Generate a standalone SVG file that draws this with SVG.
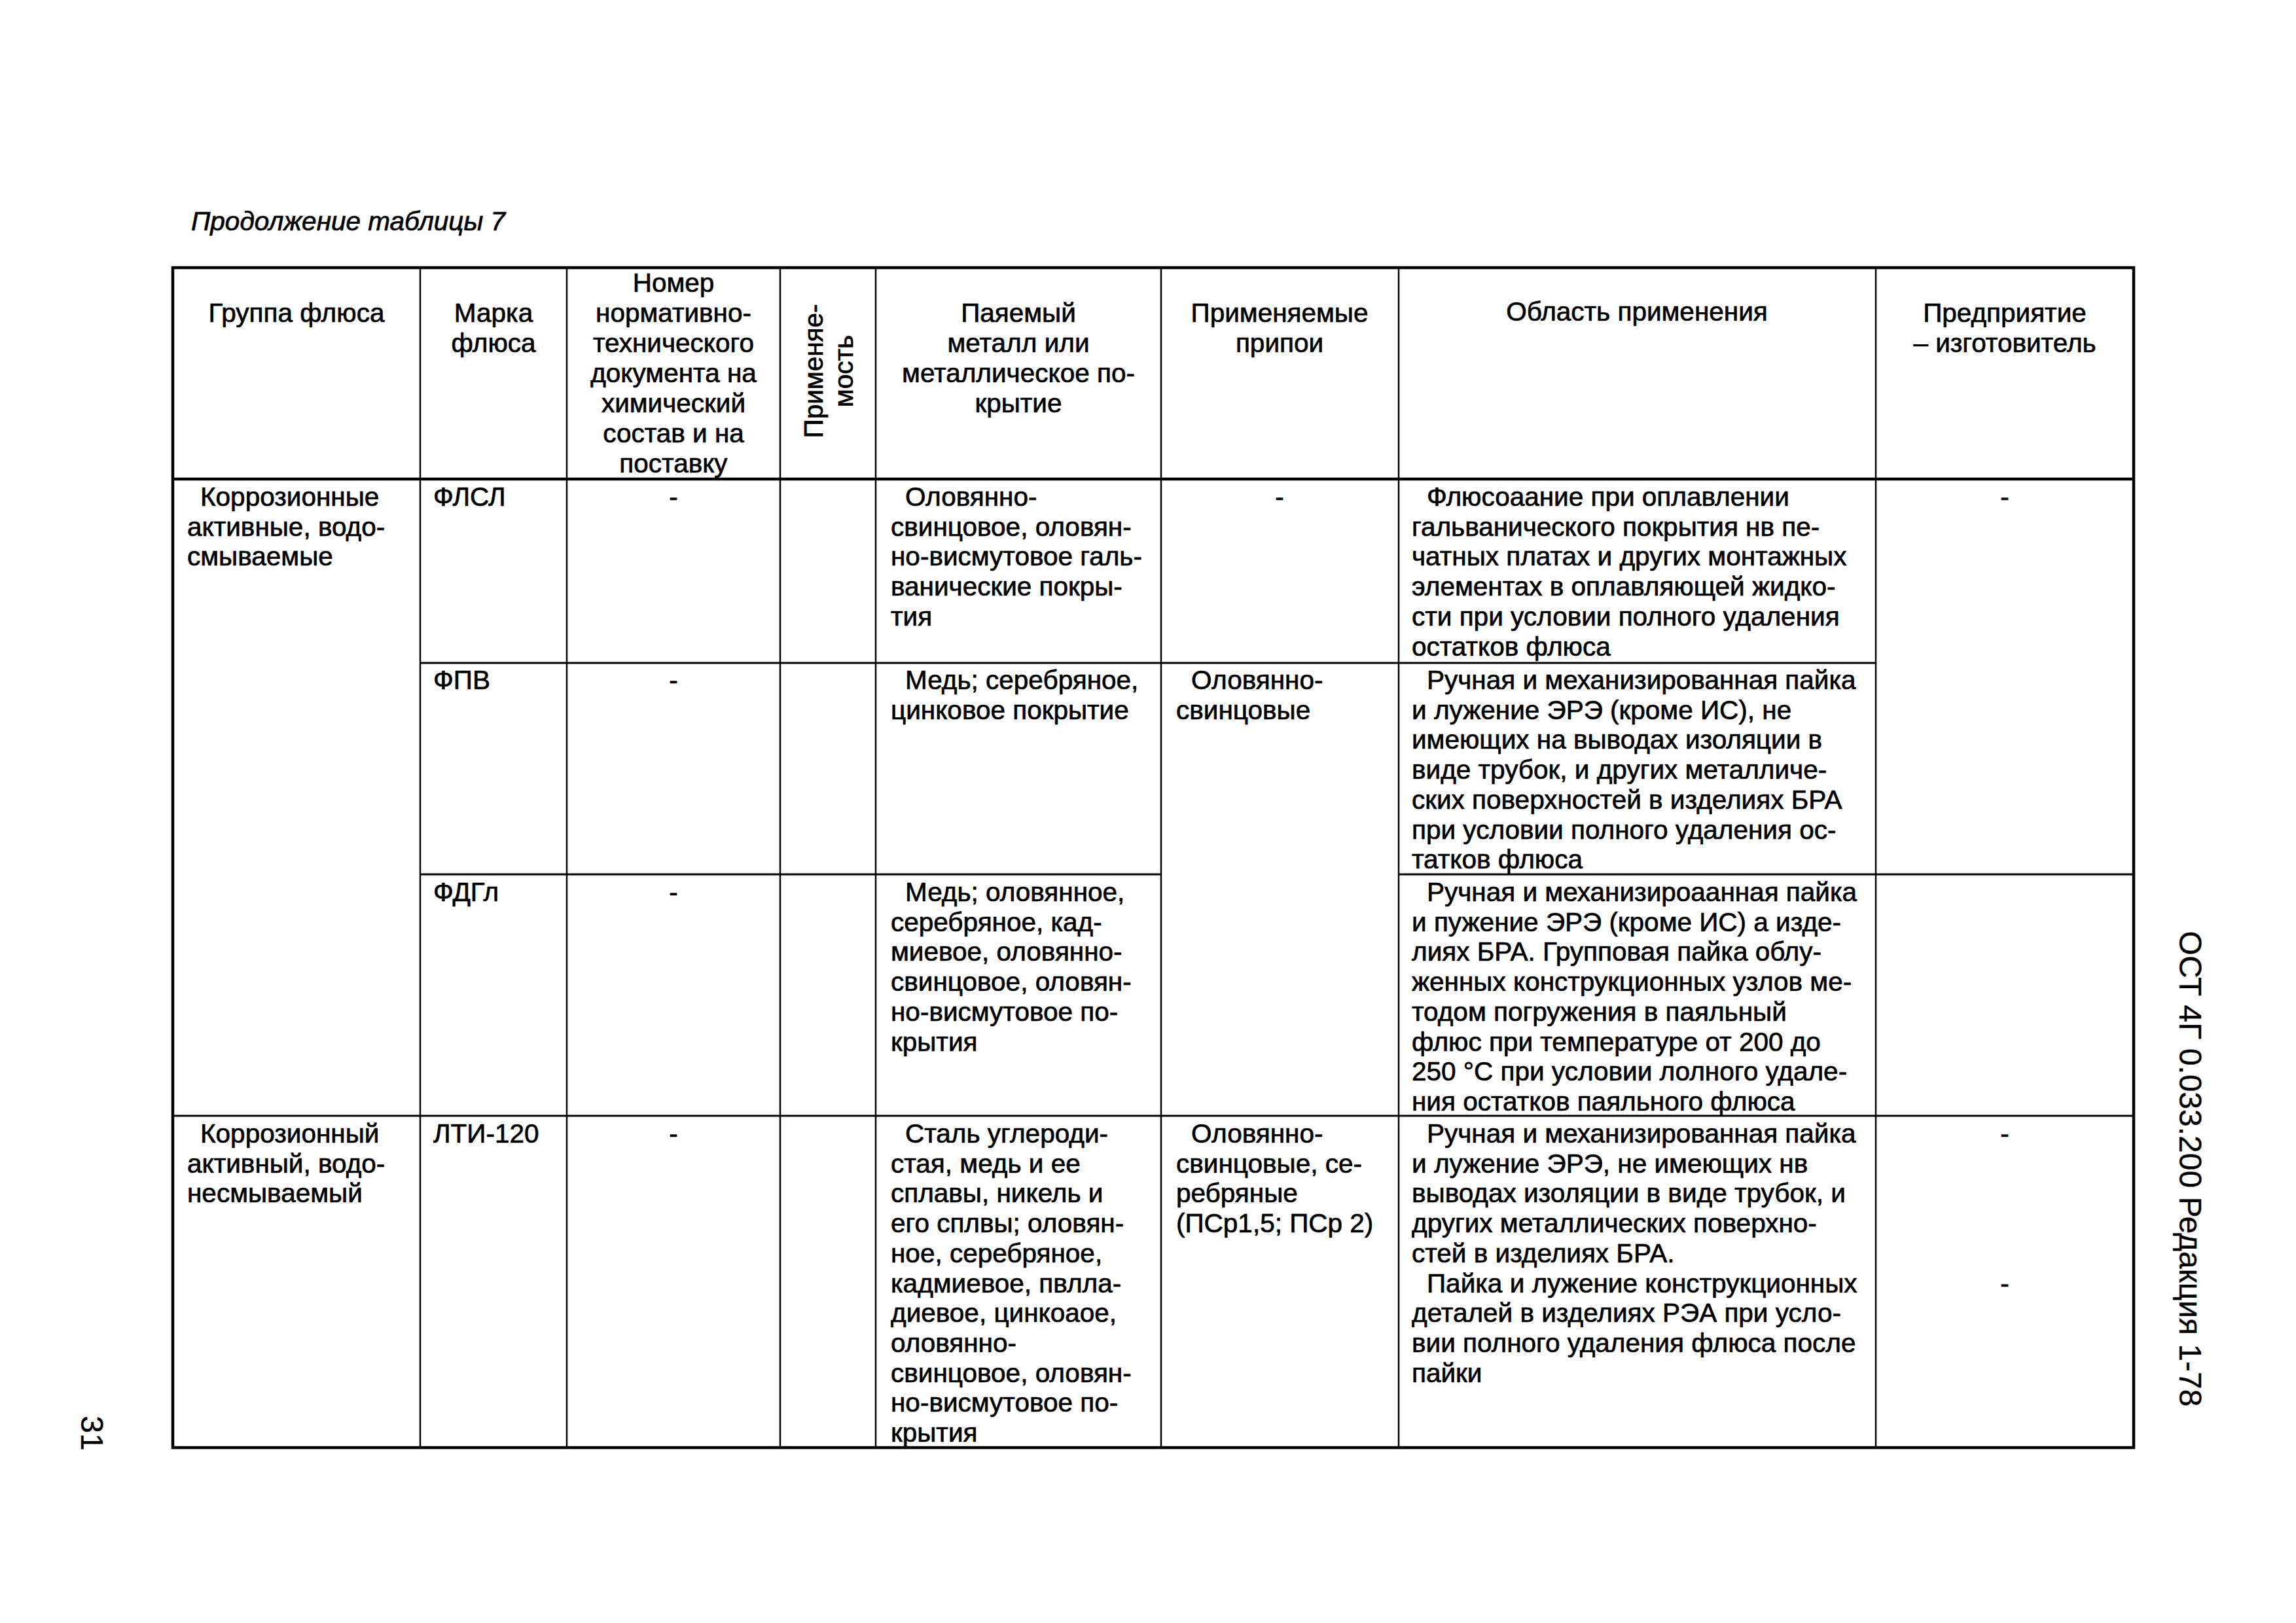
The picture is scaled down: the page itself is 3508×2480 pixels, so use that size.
<svg xmlns="http://www.w3.org/2000/svg" width="3508" height="2480" viewBox="0 0 3508 2480">
<style>
.t{font-family:"Liberation Sans",Arial,sans-serif;font-size:40.5px;fill:#000;stroke:#000;stroke-width:0.7}
.c{text-anchor:middle}
.thick{stroke:#000;stroke-width:4.5;fill:none}
.thin{stroke:#000;stroke-width:2.5;fill:none}
.mid{stroke:#000;stroke-width:3.2;fill:none}
</style>
<rect width="3508" height="2480" fill="#fff"/>
<text id="title" class="t" x="292" y="352" font-style="italic">Продолжение таблицы 7</text>
<g id="grid">
<rect class="thick" x="264" y="409" width="2996" height="1803"/>
<line class="thick" x1="264" y1="732" x2="3260" y2="732"/>
<line class="mid" x1="642" y1="1013" x2="2866" y2="1013"/>
<line class="mid" x1="642" y1="1336" x2="1774" y2="1336"/>
<line class="mid" x1="2137" y1="1336" x2="3260" y2="1336"/>
<line class="mid" x1="264" y1="1705" x2="3260" y2="1705"/>
<line class="thin" x1="642" y1="409" x2="642" y2="2212"/>
<line class="thin" x1="866" y1="409" x2="866" y2="2212"/>
<line class="thin" x1="1192" y1="409" x2="1192" y2="2212"/>
<line class="thin" x1="1338" y1="409" x2="1338" y2="2212"/>
<line class="thin" x1="1774" y1="409" x2="1774" y2="2212"/>
<line class="thin" x1="2137" y1="409" x2="2137" y2="2212"/>
<line class="thin" x1="2866" y1="409" x2="2866" y2="2212"/>
</g>
<g id="header">
<text class="t c" x="453" y="492">Группа флюса</text>
<text class="t c"><tspan x="754" y="492">Марка</tspan><tspan x="754" dy="46">флюса</tspan></text>
<text class="t c"><tspan x="1029" y="446">Номер</tspan><tspan x="1029" dy="46">нормативно-</tspan><tspan x="1029" dy="46">технического</tspan><tspan x="1029" dy="46">документа на</tspan><tspan x="1029" dy="46">химический</tspan><tspan x="1029" dy="46">состав и на</tspan><tspan x="1029" dy="46">поставку</tspan></text>
<text class="t c" transform="translate(1257,567) rotate(-90)"><tspan x="0" y="0">Применяе-</tspan><tspan x="0" y="46">мость</tspan></text>
<text class="t c"><tspan x="1556" y="492">Паяемый</tspan><tspan x="1556" dy="46">металл или</tspan><tspan x="1556" dy="46">металлическое по-</tspan><tspan x="1556" dy="46">крытие</tspan></text>
<text class="t c"><tspan x="1955" y="492">Применяемые</tspan><tspan x="1955" dy="46">припои</tspan></text>
<text class="t c" x="2501" y="490">Область применения</text>
<text class="t c"><tspan x="3063" y="492">Предприятие</tspan><tspan x="3063" dy="46">– изготовитель</tspan></text>
</g>
<g id="group1">
<text class="t"><tspan x="306" y="773">Коррозионные</tspan><tspan x="286" dy="45.7">активные, водо-</tspan><tspan x="286" dy="45.7">смываемые</tspan></text>
</g>
<g id="row-flsl">
<text class="t" x="662" y="773">ФЛСЛ</text>
<text class="t c" x="1029" y="773">-</text>
<text class="t"><tspan x="1383" y="773">Оловянно-</tspan><tspan x="1361" dy="45.7">свинцовое, оловян-</tspan><tspan x="1361" dy="45.7">но-висмутовое галь-</tspan><tspan x="1361" dy="45.7">ванические покры-</tspan><tspan x="1361" dy="45.7">тия</tspan></text>
<text class="t c" x="1955" y="773">-</text>
<text class="t"><tspan x="2180" y="773">Флюсоаание при оплавлении</tspan><tspan x="2157" dy="45.7">гальванического покрытия нв пе-</tspan><tspan x="2157" dy="45.7">чатных платах и других монтажных</tspan><tspan x="2157" dy="45.7">элементах в оплавляющей жидко-</tspan><tspan x="2157" dy="45.7">сти при условии полного удаления</tspan><tspan x="2157" dy="45.7">остатков флюса</tspan></text>
<text class="t c" x="3063" y="773">-</text>
</g>
<g id="row-fpv">
<text class="t" x="662" y="1053">ФПВ</text>
<text class="t c" x="1029" y="1053">-</text>
<text class="t"><tspan x="1383" y="1053">Медь; серебряное,</tspan><tspan x="1361" dy="45.7">цинковое покрытие</tspan></text>
<text class="t"><tspan x="1820" y="1053">Оловянно-</tspan><tspan x="1797" dy="45.7">свинцовые</tspan></text>
<text class="t"><tspan x="2180" y="1053">Ручная и механизированная пайка</tspan><tspan x="2157" dy="45.7">и лужение ЭРЭ (кроме ИС), не</tspan><tspan x="2157" dy="45.7">имеющих на выводах изоляции в</tspan><tspan x="2157" dy="45.7">виде трубок, и других металличе-</tspan><tspan x="2157" dy="45.7">ских поверхностей в изделиях БРА</tspan><tspan x="2157" dy="45.7">при условии полного удаления ос-</tspan><tspan x="2157" dy="45.7">татков флюса</tspan></text>
</g>
<g id="row-fdgl">
<text class="t" x="662" y="1377">ФДГл</text>
<text class="t c" x="1029" y="1377">-</text>
<text class="t"><tspan x="1383" y="1377">Медь; оловянное,</tspan><tspan x="1361" dy="45.7">серебряное, кад-</tspan><tspan x="1361" dy="45.7">миевое, оловянно-</tspan><tspan x="1361" dy="45.7">свинцовое, оловян-</tspan><tspan x="1361" dy="45.7">но-висмутовое по-</tspan><tspan x="1361" dy="45.7">крытия</tspan></text>
<text class="t"><tspan x="2180" y="1377">Ручная и механизироаанная пайка</tspan><tspan x="2157" dy="45.7">и пужение ЭРЭ (кроме ИС) а изде-</tspan><tspan x="2157" dy="45.7">лиях БРА. Групповая пайка облу-</tspan><tspan x="2157" dy="45.7">женных конструкционных узлов ме-</tspan><tspan x="2157" dy="45.7">тодом погружения в паяльный</tspan><tspan x="2157" dy="45.7">флюс при температуре от 200 до</tspan><tspan x="2157" dy="45.7">250 °С при условии лолного удале-</tspan><tspan x="2157" dy="45.7">ния остатков паяльного флюса</tspan></text>
</g>
<g id="row-lti120">
<text class="t"><tspan x="306" y="1746">Коррозионный</tspan><tspan x="286" dy="45.7">активный, водо-</tspan><tspan x="286" dy="45.7">несмываемый</tspan></text>
<text class="t" x="662" y="1746">ЛТИ-120</text>
<text class="t c" x="1029" y="1746">-</text>
<text class="t"><tspan x="1383" y="1746">Сталь углероди-</tspan><tspan x="1361" dy="45.7">стая, медь и ее</tspan><tspan x="1361" dy="45.7">сплавы, никель и</tspan><tspan x="1361" dy="45.7">его сплвы; оловян-</tspan><tspan x="1361" dy="45.7">ное, серебряное,</tspan><tspan x="1361" dy="45.7">кадмиевое, пвлла-</tspan><tspan x="1361" dy="45.7">диевое, цинкоаое,</tspan><tspan x="1361" dy="45.7">оловянно-</tspan><tspan x="1361" dy="45.7">свинцовое, оловян-</tspan><tspan x="1361" dy="45.7">но-висмутовое по-</tspan><tspan x="1361" dy="45.7">крытия</tspan></text>
<text class="t"><tspan x="1820" y="1746">Оловянно-</tspan><tspan x="1797" dy="45.7">свинцовые, се-</tspan><tspan x="1797" dy="45.7">ребряные</tspan><tspan x="1797" dy="45.7">(ПСр1,5; ПСр 2)</tspan></text>
<text class="t"><tspan x="2180" y="1746">Ручная и механизированная пайка</tspan><tspan x="2157" dy="45.7">и лужение ЭРЭ, не имеющих нв</tspan><tspan x="2157" dy="45.7">выводах изоляции в виде трубок, и</tspan><tspan x="2157" dy="45.7">других металлических поверхно-</tspan><tspan x="2157" dy="45.7">стей в изделиях БРА.</tspan><tspan x="2180" dy="45.7">Пайка и лужение конструкционных</tspan><tspan x="2157" dy="45.7">деталей в изделиях РЭА при усло-</tspan><tspan x="2157" dy="45.7">вии полного удаления флюса после</tspan><tspan x="2157" dy="45.7">пайки</tspan></text>
<text class="t c" x="3063" y="1746">-</text>
<text class="t c" x="3063" y="1975">-</text>
</g>
<text id="doc-code" class="t c" style="font-size:48px;stroke-width:0.3" transform="translate(3330,1786) rotate(90)" x="0" y="0">ОСТ 4Г 0.033.200 Редакция 1-78</text>
<text id="page-number" class="t c" style="font-size:48px;stroke-width:0.3" transform="translate(124,2190) rotate(90)" x="0" y="0">31</text>
</svg>
